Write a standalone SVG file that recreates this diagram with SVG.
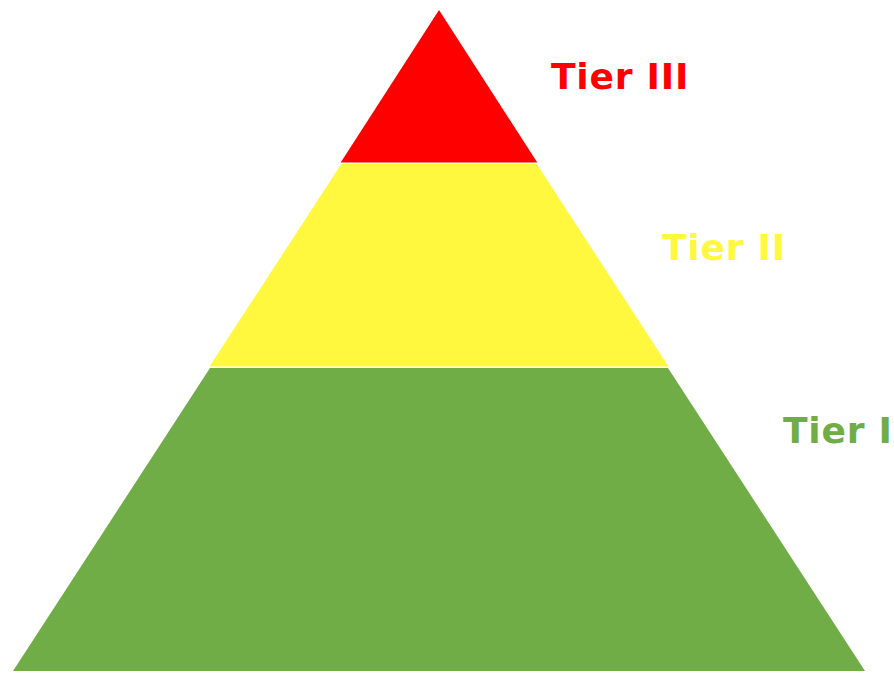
<svg xmlns="http://www.w3.org/2000/svg" width="894" height="673" viewBox="0 0 894 673">
<style>
.lbl{font-family:"DejaVu Sans","Verdana",sans-serif;font-weight:bold;font-size:36px;letter-spacing:0.8px}
</style>
<rect width="894" height="673" fill="#ffffff"/>
<g id="tier3">
<polygon points="439,10 537.3,162.5 340.7,162.5" fill="#FF0000"/>
<text class="lbl" x="551" y="89" fill="#FF0000">Tier III</text>
</g>
<g id="tier2">
<polygon points="341.3,164 536.7,164 668.5,366.5 209.5,366.5" fill="#FFF83F"/>
<text class="lbl" x="662" y="260" fill="#FFF83F">Tier II</text>
</g>
<g id="tier1">
<polygon points="210,368 668,368 865,671 13,671" fill="#70AD47"/>
<text class="lbl" x="783" y="443" fill="#70AD47">Tier I</text>
</g>
<g id="connectors"></g>
</svg>
